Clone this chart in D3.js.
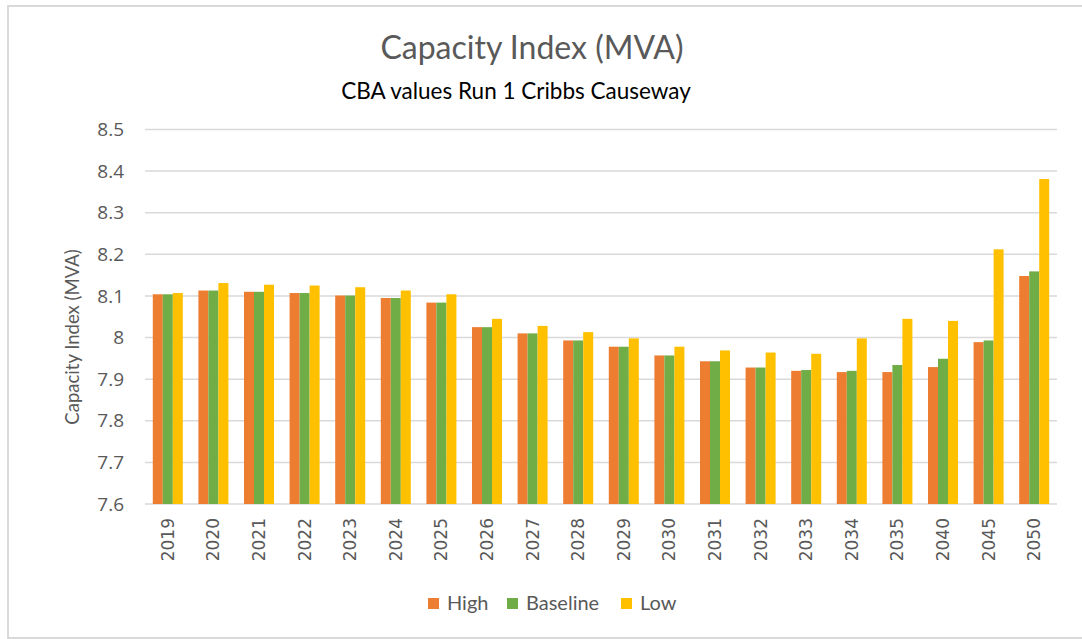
<!DOCTYPE html>
<html>
<head>
<meta charset="utf-8">
<script src="https://cdn.jsdelivr.net/npm/d3@7"></script>
<style>
  body { margin: 0; background: #fff; }
  svg { display: block; }
  text { fill: #595959; }
</style>
</head>
<body>
<svg id="chart" width="1082" height="639"></svg>
<script>
const years = ['2019', '2020', '2021', '2022', '2023', '2024', '2025', '2026', '2027', '2028',
  '2029', '2030', '2031', '2032', '2033', '2034', '2035', '2040', '2045', '2050'];
const high = [8.104, 8.113, 8.110, 8.107, 8.101, 8.095, 8.084, 8.025, 8.010, 7.993,
  7.978, 7.957, 7.943, 7.928, 7.920, 7.917, 7.917, 7.929, 7.989, 8.148];
const baseline = [8.104, 8.113, 8.110, 8.107, 8.101, 8.095, 8.084, 8.025, 8.010, 7.993,
  7.978, 7.957, 7.943, 7.928, 7.922, 7.920, 7.934, 7.949, 7.993, 8.159];
const low = [8.107, 8.131, 8.127, 8.125, 8.121, 8.113, 8.104, 8.045, 8.028, 8.013,
  7.998, 7.978, 7.969, 7.964, 7.961, 7.998, 8.045, 8.040, 8.212, 8.381];
const yTicks = [7.6, 7.7, 7.8, 7.9, 8.0, 8.1, 8.2, 8.3, 8.4, 8.5];

const series = [
  { name: 'High', values: high, color: '#ED7D31' },
  { name: 'Baseline', values: baseline, color: '#70AD47' },
  { name: 'Low', values: low, color: '#FFC000' }
];

const svg = d3.select('#chart');

// frame (left, top, bottom edges show in the original)
svg.append('path')
  .attr('d', 'M1082,6 H8 V638 H1082')
  .attr('fill', 'none')
  .attr('stroke', '#d9d9d9')
  .attr('stroke-width', 2);

const x0 = d3.scaleBand().domain(years).range([145, 1057]).paddingInner(0.342).paddingOuter(0.171);
const x1 = d3.scaleBand().domain(series.map(s => s.name)).range([0, x0.bandwidth()]);
const y = d3.scaleLinear().domain([7.6, 8.5]).range([504, 129.5]);

// gridlines
svg.append('g')
  .selectAll('line')
  .data(yTicks)
  .join('line')
  .attr('x1', 145).attr('x2', 1057)
  .attr('y1', d => y(d)).attr('y2', d => y(d))
  .attr('stroke', '#d9d9d9')
  .attr('stroke-width', 1.5);

// y axis labels
const yAxis = svg.append('g')
  .attr('transform', 'translate(124,0)')
  .call(d3.axisLeft(y).tickValues(yTicks).tickSize(0).tickPadding(0)
    .tickFormat(d => d3.format('')(+d.toFixed(1))));
yAxis.select('.domain').remove();
yAxis.selectAll('text')
  .style('font-family', 'Open Sans')
  .style('font-size', '19px')
  .style('fill', '#595959');

// bars
const groups = svg.append('g')
  .selectAll('g')
  .data(years)
  .join('g')
  .attr('transform', d => `translate(${x0(d)},0)`);

groups.selectAll('rect')
  .data((d, i) => series.map(s => ({ key: s.name, value: s.values[i], color: s.color })))
  .join('rect')
  .attr('x', d => x1(d.key))
  .attr('width', x1.bandwidth())
  .attr('y', d => y(d.value))
  .attr('height', d => y(7.6) - y(d.value))
  .attr('fill', d => d.color);

// x axis labels (rotated)
const xAxis = svg.append('g')
  .attr('transform', 'translate(0,504)')
  .call(d3.axisBottom(x0).tickSize(0).tickPadding(0));
xAxis.select('.domain').remove();
xAxis.selectAll('text')
  .attr('transform', 'rotate(-90)')
  .attr('x', -14)
  .attr('y', 0)
  .attr('dy', '0.35em')
  .style('text-anchor', 'end')
  .style('font-family', 'DejaVu Sans')
  .style('font-size', '17px')
  .style('fill', '#595959');

// titles
svg.append('text')
  .attr('x', 532).attr('y', 59)
  .attr('text-anchor', 'middle')
  .style('font-family', 'Lato')
  .style('font-size', '32px')
  .text('Capacity Index (MVA)');

svg.append('text')
  .attr('x', 516).attr('y', 99)
  .attr('text-anchor', 'middle')
  .style('font-family', 'Lato')
  .style('font-size', '22.5px')
  .style('fill', '#000')
  .text('CBA values Run 1 Cribbs Causeway');

svg.append('text')
  .attr('transform', 'translate(79,337) rotate(-90)')
  .attr('text-anchor', 'middle')
  .style('font-family', 'Lato')
  .style('font-size', '18.5px')
  .text('Capacity Index (MVA)');

// legend
const legendX = [428, 507, 621];
const legend = svg.append('g')
  .selectAll('g')
  .data(series)
  .join('g')
  .attr('transform', (d, i) => `translate(${legendX[i]},598)`);
legend.append('rect')
  .attr('width', 11).attr('height', 11)
  .attr('fill', d => d.color);
legend.append('text')
  .attr('x', 19).attr('y', 12)
  .style('font-family', 'Lato')
  .style('font-size', '20px')
  .text(d => d.name);
</script>
</body>
</html>
